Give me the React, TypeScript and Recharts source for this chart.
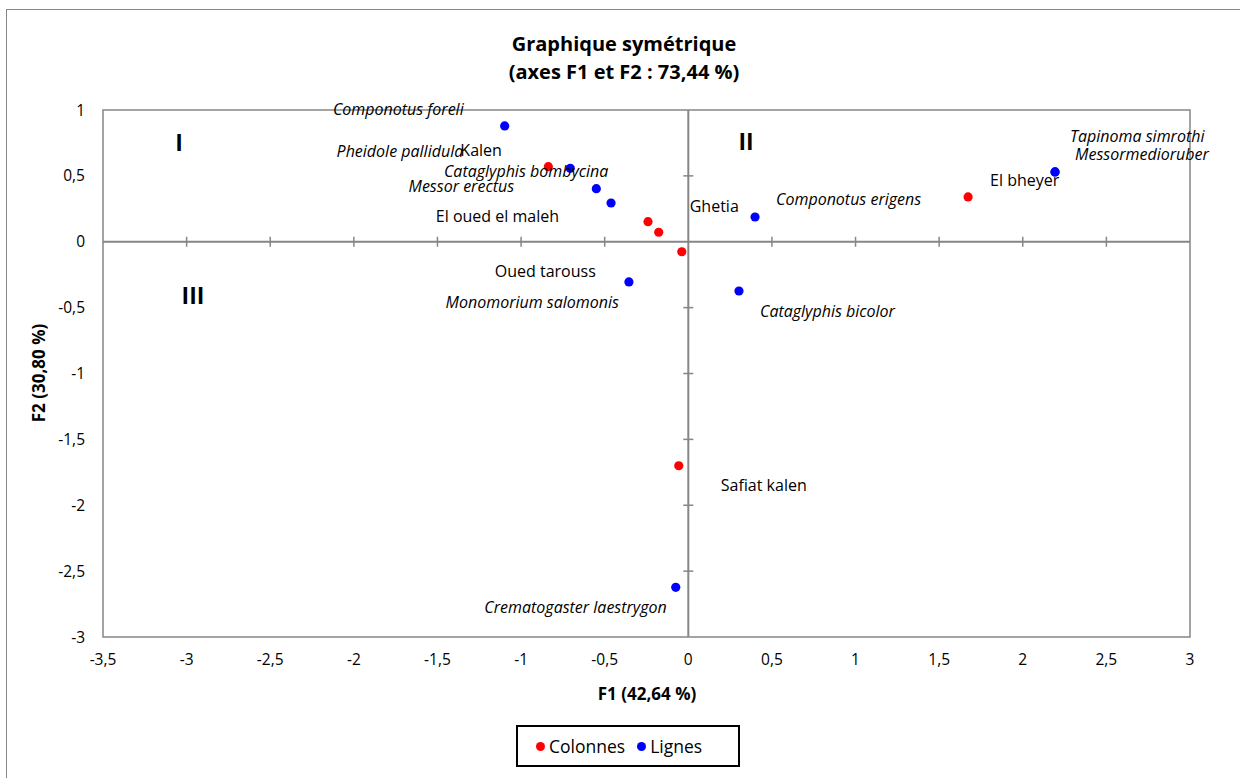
import React from 'react';
import {
  ScatterChart, Scatter, XAxis, YAxis, ReferenceArea, ReferenceLine, ReferenceDot,
} from 'recharts';

// Colonnes (sites)
const sites = ['Kalen', 'El oued el maleh', 'Ghetia', 'Oued tarouss', 'Safiat kalen', 'El bheyer'];
const siteF1 = [-0.837, -0.241, -0.177, -0.039, -0.057, 1.673];
const siteF2 = [0.57, 0.152, 0.072, -0.076, -1.7, 0.34];

// Lignes (espèces)
const species = [
  'Componotus foreli', 'Pheidole pallidula', 'Cataglyphis bombycina', 'Messor erectus',
  'Monomorium salomonis', 'Cataglyphis bicolor', 'Componotus erigens', 'Tapinoma simrothi',
  'Messormedioruber', 'Crematogaster laestrygon',
];
const speciesF1 = [-1.098, -0.706, -0.55, -0.462, -0.355, 0.303, 0.399, 2.193, 2.193, -0.075];
const speciesF2 = [0.879, 0.557, 0.403, 0.294, -0.305, -0.374, 0.188, 0.53, 0.53, -2.623];

const xTicks = [-3.5, -3, -2.5, -2, -1.5, -1, -0.5, 0, 0.5, 1, 1.5, 2, 2.5, 3];
const yTicks = [-3, -2.5, -2, -1.5, -1, -0.5, 0, 0.5, 1];

const quadrants = ['I', 'II', 'III'];
const quadrantF1 = [-3.045, 0.345, -2.962];
const quadrantF2 = [0.75, 0.757, -0.41];

// label placement (pixels relative to the dot)
const labelLayout: Record<string, { dx: number; dy: number; anchor: 'start' | 'end' }> = {
  'Kalen': { dx: -88, dy: -16, anchor: 'start' },
  'El oued el maleh': { dx: -89, dy: -5, anchor: 'end' },
  'Ghetia': { dx: 31, dy: -26, anchor: 'start' },
  'Oued tarouss': { dx: -86, dy: 20, anchor: 'end' },
  'Safiat kalen': { dx: 42, dy: 20, anchor: 'start' },
  'El bheyer': { dx: 22, dy: -17, anchor: 'start' },
  'Componotus foreli': { dx: -41, dy: -17, anchor: 'end' },
  'Pheidole pallidula': { dx: -107, dy: -17, anchor: 'end' },
  'Cataglyphis bombycina': { dx: 12, dy: -17, anchor: 'end' },
  'Messor erectus': { dx: -97, dy: -17, anchor: 'end' },
  'Monomorium salomonis': { dx: -10, dy: 20, anchor: 'end' },
  'Cataglyphis bicolor': { dx: 21, dy: 20, anchor: 'start' },
  'Componotus erigens': { dx: 21, dy: -18, anchor: 'start' },
  'Tapinoma simrothi': { dx: 15, dy: -36, anchor: 'start' },
  'Messormedioruber': { dx: 20, dy: -18, anchor: 'start' },
  'Crematogaster laestrygon': { dx: -9, dy: 20, anchor: 'end' },
};

const FONT = '"Open Sans", sans-serif';
const AXIS = '#868686';

const siteData = sites.map((name, i) => ({ name, x: siteF1[i], y: siteF2[i] }));
const speciesData = species.map((name, i) => ({ name, x: speciesF1[i], y: speciesF2[i] }));

const fmt = (v: number) => String(v).replace('.', ',');

const dotShape = (color: string, italic: boolean) => (props: any) => {
  const { cx, cy, payload } = props;
  const l = labelLayout[payload.name] || { dx: 8, dy: -10, anchor: 'start' };
  return (
    <g>
      <circle cx={cx} cy={cy} r={4.6} fill={color} />
      <text
        x={cx + l.dx}
        y={cy + l.dy}
        dy="0.35em"
        textAnchor={l.anchor}
        fontSize={16}
        fontFamily={FONT}
        fontStyle={italic ? 'italic' : 'normal'}
        fill="#000"
      >
        {payload.name}
      </text>
    </g>
  );
};

const hTick = (props: any) => (
  <line x1={props.cx} x2={props.cx} y1={props.cy - 5} y2={props.cy + 5} stroke={AXIS} strokeWidth={1.5} />
);
const vTick = (props: any) => (
  <line x1={props.cx - 5} x2={props.cx + 5} y1={props.cy} y2={props.cy} stroke={AXIS} strokeWidth={1.5} />
);

export default function App() {
  return (
    <div style={{ position: 'absolute', left: 0, top: 0, width: 1240, height: 778, overflow: 'hidden', background: '#fff', fontFamily: FONT }}>
      <div style={{ position: 'absolute', left: 6, top: 9, width: 1260, height: 800, border: `1.5px solid ${AXIS}` }} />

      <div style={{ position: 'absolute', left: 0, width: 1248, top: 30, textAlign: 'center', fontWeight: 'bold', fontSize: 20, lineHeight: '28px' }}>
        Graphique symétrique<br />(axes F1 et F2 : 73,44 %)
      </div>

      <div style={{ position: 'absolute', left: 0, top: 0 }}>
        <ScatterChart width={1240} height={778} margin={{ top: 110, right: 50, bottom: 111, left: 0 }}>
          <XAxis
            type="number"
            dataKey="x"
            domain={[-3.5, 3]}
            ticks={xTicks}
            tickFormatter={fmt}
            axisLine={false}
            tickLine={false}
            tickMargin={11}
            height={30}
            interval={0}
            tick={{ fill: '#000', fontSize: 15.5, fontFamily: FONT }}
          />
          <YAxis
            type="number"
            dataKey="y"
            domain={[-3, 1]}
            ticks={yTicks}
            tickFormatter={fmt}
            axisLine={false}
            tickLine={false}
            tickMargin={12}
            width={103}
            interval={0}
            tick={{ fill: '#000', fontSize: 15.5, fontFamily: FONT }}
          />
          <ReferenceArea x1={-3.5} x2={3} y1={-3} y2={1} fill="none" stroke={AXIS} strokeWidth={1.5} />
          <ReferenceLine x={0} stroke={AXIS} strokeWidth={2} />
          <ReferenceLine y={0} stroke={AXIS} strokeWidth={2} />
          {xTicks.filter(t => t !== 0 && t !== -3.5 && t !== 3).map(t => (
            <ReferenceDot key={`xt${t}`} x={t} y={0} r={0} shape={hTick} />
          ))}
          {yTicks.filter(t => t !== 0 && t !== -3 && t !== 1).map(t => (
            <ReferenceDot key={`yt${t}`} x={0} y={t} r={0} shape={vTick} />
          ))}
          {quadrants.map((q, i) => (
            <ReferenceDot
              key={q}
              x={quadrantF1[i]}
              y={quadrantF2[i]}
              r={0}
              shape={(p: any) => (
                <text x={p.cx} y={p.cy} dy="0.35em" textAnchor="middle" fontSize={23} fontWeight="bold" fontFamily={FONT}>
                  {q}
                </text>
              )}
            />
          ))}
          <Scatter name="Colonnes" data={siteData} fill="#FF0000" shape={dotShape('#FF0000', false)} isAnimationActive={false} />
          <Scatter name="Lignes" data={speciesData} fill="#0000FF" shape={dotShape('#0000FF', true)} isAnimationActive={false} />
        </ScatterChart>
      </div>

      <div style={{ position: 'absolute', left: 0, width: 1294, top: 682, textAlign: 'center', fontWeight: 'bold', fontSize: 17 }}>
        F1 (42,64 %)
      </div>
      <div
        style={{
          position: 'absolute', left: 38, top: 373, fontWeight: 'bold', fontSize: 17, whiteSpace: 'nowrap',
          transform: 'translate(-50%, -50%) rotate(-90deg)',
        }}
      >
        F2 (30,80 %)
      </div>

      <div
        style={{
          position: 'absolute', left: 516, top: 725, width: 224, height: 42, border: '2px solid #000',
          boxSizing: 'border-box', display: 'flex', alignItems: 'center', justifyContent: 'flex-start',
          paddingLeft: 18, gap: 12, fontSize: 17.5,
        }}
      >
        <span style={{ display: 'flex', alignItems: 'center', gap: 4 }}>
          <span style={{ width: 9, height: 9, borderRadius: '50%', background: '#FF0000', display: 'inline-block' }} />
          Colonnes
        </span>
        <span style={{ display: 'flex', alignItems: 'center', gap: 4 }}>
          <span style={{ width: 9, height: 9, borderRadius: '50%', background: '#0000FF', display: 'inline-block' }} />
          Lignes
        </span>
      </div>
    </div>
  );
}
